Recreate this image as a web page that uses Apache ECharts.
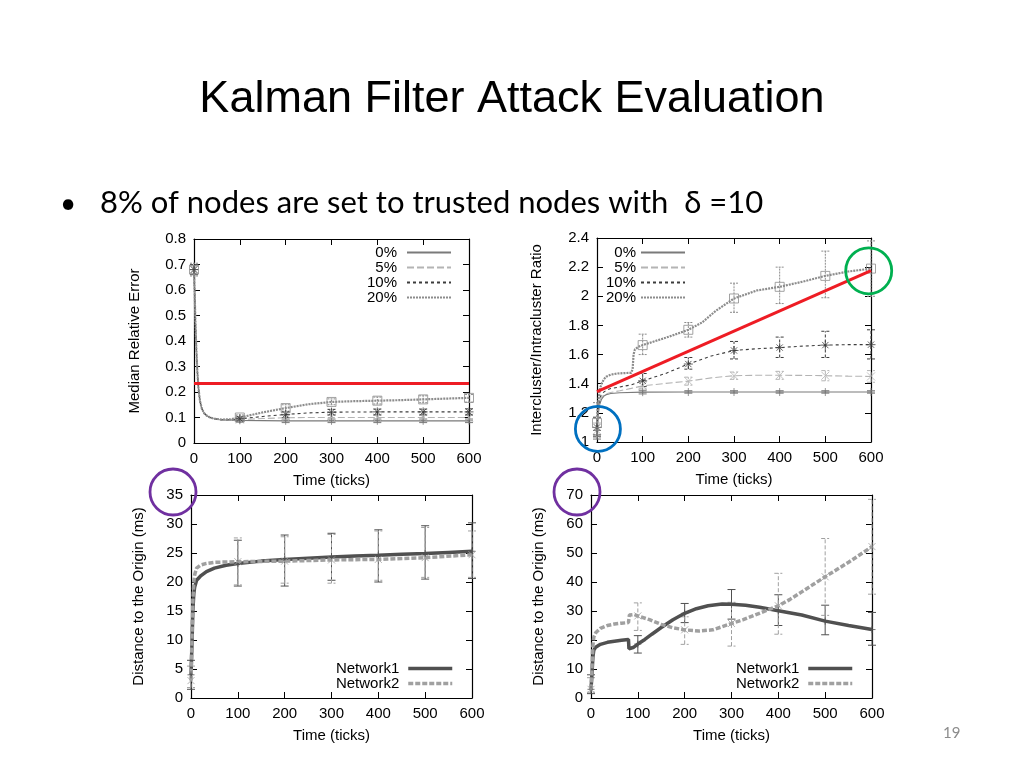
<!DOCTYPE html>
<html><head><meta charset="utf-8">
<script src="https://cdn.jsdelivr.net/npm/echarts@6/dist/echarts.min.js"></script>
<style>html,body{margin:0;padding:0;background:#fff}#c{width:1024px;height:768px}</style>
</head><body><div id="c"></div>
<script>
const F = 'Liberation Sans, Arial, sans-serif';
// ---------- data: chart 1 (Median Relative Error) ----------
const mre0 = [[0,0.68],[2,0.55],[4,0.42],[6,0.33],[8,0.26],[10,0.21],[13,0.165],[17,0.135],[22,0.117],[28,0.107],[35,0.1],[45,0.095],[60,0.091],[80,0.09],[100,0.089],[150,0.088],[200,0.087],[300,0.087],[400,0.087],[500,0.087],[600,0.087]];
const mre5 = [[0,0.68],[2,0.55],[4,0.42],[6,0.33],[8,0.26],[10,0.21],[13,0.165],[17,0.135],[22,0.117],[28,0.107],[35,0.1],[45,0.095],[60,0.091],[80,0.09],[100,0.092],[150,0.096],[200,0.099],[250,0.1],[300,0.1],[400,0.1],[500,0.1],[600,0.1]];
const mre10 = [[0,0.68],[2,0.55],[4,0.42],[6,0.33],[8,0.26],[10,0.21],[13,0.165],[17,0.135],[22,0.117],[28,0.107],[35,0.1],[45,0.095],[60,0.091],[80,0.091],[100,0.095],[150,0.104],[200,0.112],[250,0.118],[300,0.121],[400,0.122],[500,0.122],[600,0.122]];
const mre20 = [[0,0.68],[2,0.55],[4,0.42],[6,0.33],[8,0.26],[10,0.21],[13,0.165],[17,0.135],[22,0.117],[28,0.107],[35,0.1],[45,0.095],[60,0.092],[80,0.093],[100,0.1],[150,0.12],[200,0.137],[250,0.152],[300,0.161],[350,0.164],[400,0.166],[450,0.168],[500,0.171],[550,0.174],[600,0.177]];
const mreErr0 = [[0,0.665,0.695],[100,0.082,0.096],[200,0.08,0.094],[300,0.08,0.094],[400,0.08,0.094],[500,0.08,0.094],[600,0.08,0.094]];
const mreErr5 = [[0,0.665,0.695],[100,0.085,0.1],[200,0.09,0.108],[300,0.09,0.11],[400,0.09,0.11],[500,0.09,0.11],[600,0.09,0.11]];
const mreErr10 = [[0,0.66,0.7],[100,0.087,0.103],[200,0.1,0.122],[300,0.11,0.132],[400,0.11,0.133],[500,0.11,0.133],[600,0.11,0.134]];
const mreErr20 = [[0,0.655,0.705],[100,0.09,0.11],[200,0.125,0.15],[300,0.15,0.173],[400,0.153,0.18],[500,0.158,0.185],[600,0.16,0.19]];
const mreRed = [[0,0.233],[600,0.233]];
// ---------- data: chart 2 (Intercluster/Intracluster Ratio) ----------
const ratio0 = [[0,1.05],[3,1.2],[6,1.26],[10,1.295],[15,1.315],[20,1.325],[30,1.333],[50,1.338],[100,1.342],[200,1.343],[300,1.343],[400,1.343],[500,1.343],[600,1.343]];
const ratio5 = [[0,1.08],[3,1.22],[6,1.28],[10,1.31],[20,1.33],[30,1.34],[50,1.352],[75,1.368],[100,1.385],[150,1.402],[200,1.418],[250,1.44],[300,1.455],[350,1.458],[400,1.458],[450,1.457],[500,1.455],[550,1.452],[600,1.45]];
const ratio10 = [[0,1.1],[3,1.24],[6,1.3],[10,1.33],[20,1.355],[30,1.367],[50,1.378],[75,1.392],[100,1.42],[150,1.47],[200,1.535],[250,1.59],[300,1.628],[350,1.64],[400,1.648],[450,1.658],[500,1.665],[550,1.668],[600,1.668]];
const ratio20 = [[0,1.13],[3,1.28],[6,1.36],[10,1.4],[15,1.43],[20,1.448],[30,1.462],[45,1.47],[60,1.473],[75,1.475],[78,1.5],[80,1.6],[83,1.635],[90,1.652],[100,1.665],[150,1.715],[200,1.77],[230,1.82],[260,1.9],[300,1.985],[350,2.04],[400,2.065],[450,2.1],[500,2.14],[550,2.17],[600,2.19]];
const ratioErr0 = [[0,1.02,1.08],[100,1.33,1.355],[200,1.335,1.352],[300,1.335,1.352],[400,1.335,1.352],[500,1.335,1.352],[600,1.335,1.352]];
const ratioErr5 = [[0,1.03,1.13],[100,1.365,1.415],[200,1.39,1.445],[300,1.43,1.48],[400,1.43,1.485],[500,1.42,1.49],[600,1.41,1.49]];
const ratioErr10 = [[0,1.04,1.17],[100,1.38,1.47],[200,1.5,1.58],[300,1.57,1.69],[400,1.58,1.72],[500,1.58,1.76],[600,1.57,1.77]];
const ratioErr20 = [[0,1.05,1.27],[100,1.6,1.74],[200,1.72,1.82],[300,1.89,2.09],[400,1.95,2.2],[500,1.99,2.31],[600,2.0,2.38]];
const ratioRed = [[0,1.345],[600,2.176]];
// ---------- data: chart 3 (Distance, Network1/2) ----------
const distA1 = [[0,4],[2,9],[4,15],[6,18],[8,19.2],[12,20.3],[20,21],[33,21.8],[50,22.4],[75,22.9],[100,23.2],[150,23.6],[200,23.9],[250,24.1],[300,24.3],[350,24.5],[400,24.6],[450,24.8],[500,24.9],[550,25.1],[600,25.3]];
const distA2 = [[0,3],[2,10],[4,17],[6,20],[8,21.3],[12,22.4],[20,22.9],[33,23.2],[50,23.4],[100,23.5],[200,23.6],[300,23.8],[400,23.9],[500,24.2],[600,24.7]];
const distAErr1 = [[0,1.5,6.5],[100,19.3,27.2],[200,19.3,28.1],[300,20.3,28.4],[400,20,29],[500,20.5,29.7],[600,20.6,30.2]];
const distAErr2 = [[0,1.8,5.5],[100,19.5,27.6],[200,19.8,27.8],[300,19.8,28.2],[400,20.3,28.8],[500,20.8,29.4],[600,20.8,28.8]];
// ---------- data: chart 4 (Distance, Network1/2) ----------
const distB1 = [[0,3],[2,8],[4,14],[6,16.5],[10,17.5],[20,18.5],[35,19.2],[50,19.6],[65,19.9],[80,20.2],[81,17],[90,17.4],[100,18.6],[115,20.2],[130,22],[150,24.3],[175,27],[200,29.2],[225,30.8],[250,31.8],[280,32.4],[300,32.3],[330,32],[360,31.3],[400,30.1],[450,28.6],[500,26.5],[550,25],[600,23.6]];
const distB2 = [[0,3],[2,10],[4,18],[6,21],[10,22.5],[20,24],[35,25],[50,25.5],[65,25.8],[80,26],[82,28.6],[92,28.8],[100,28.3],[125,27],[150,25.4],[175,24.2],[200,23.5],[230,23.1],[260,23.5],[300,25.7],[325,27],[350,28.6],[375,30.2],[400,31.8],[425,34],[450,36.6],[475,39.2],[500,41.8],[525,44.3],[550,46.8],[575,49.5],[600,52.2]];
const distBErr1 = [[0,1.5,8],[100,15.5,21.5],[200,26,32.6],[300,27.2,37.4],[400,25,35.6],[500,21.8,32],[600,18.2,29.5]];
const distBErr2 = [[0,2,7],[100,23.3,32.8],[200,18.5,28],[300,17.9,33],[400,22,43],[500,28.5,55],[600,35.8,68.5]];
// ---------- labels ----------
const legendPct = ['0%','5%','10%','20%'];
const legendNet = ['Network1','Network2'];
const yNames = ['Median Relative Error','Intercluster/Intracluster Ratio','Distance to the Origin (ms)','Distance to the Origin (ms)'];
const yRanges = [[0,0.8,0.1],[1,2.4,0.2],[0,35,5],[0,70,10]];

const grids = [
  {left:194, top:239, width:275, height:204},
  {left:597, top:238, width:274, height:204},
  {left:191, top:495, width:281, height:203},
  {left:591, top:495, width:281, height:203}
];
const yGaps = [52, 53, 45, 45];

const PLUS = 'path://M5,0L5,10M0,5L10,5';
const CROSS = 'path://M0,0L10,10M10,0L0,10';
const STAR = 'path://M5,0L5,10M0,5L10,5M1.5,1.5L8.5,8.5M8.5,1.5L1.5,8.5';

const chart = echarts.init(document.getElementById('c'), null, {renderer:'canvas'});

function xAx(g, main){
  return {type:'value', gridIndex:g, min:0, max:600, interval:100, position: main?'bottom':'top',
    name: main?'Time (ticks)':'', nameLocation:'middle', nameGap:30,
    nameTextStyle:{fontSize:15, color:'#000', fontFamily:F},
    axisLine:{show:true, onZero:false, lineStyle:{color:'#000', width:1.2}},
    axisTick:{show:true, inside:true, length:6, lineStyle:{color:'#000', width:1}},
    axisLabel:{show:main, fontSize:15, color:'#000', fontFamily:F, margin:8},
    splitLine:{show:false}};
}
function yAx(g, main){
  const r = yRanges[g];
  return {type:'value', gridIndex:g, min:r[0], max:r[1], interval:r[2], position: main?'left':'right',
    name: main?yNames[g]:'', nameLocation:'middle', nameGap:yGaps[g],
    nameTextStyle:{fontSize:15, color:'#000', fontFamily:F},
    axisLine:{show:true, onZero:false, lineStyle:{color:'#000', width:1.2}},
    axisTick:{show:true, inside:true, length:6, lineStyle:{color:'#000', width:1}},
    axisLabel:{show:main, fontSize:15, color:'#000', fontFamily:F, margin:8},
    splitLine:{show:false}};
}
function lineS(name, data, g, color, width, dash){
  return {type:'line', name, data, xAxisIndex:g, yAxisIndex:g, symbol:'none', silent:true,
    lineStyle:{color, width, type:dash}, itemStyle:{color}, z:3};
}
function markS(data, g, symbol, color, size){
  return {type:'scatter', name:'_m', data:data.filter(p => p[0] % 100 === 0), xAxisIndex:g, yAxisIndex:g,
    symbol, symbolSize:size, silent:true, itemStyle:{color:'none', borderColor:color, borderWidth:1}, z:4};
}
function errS(data, g, color, dash){
  return {type:'custom', name:'_e', data, xAxisIndex:g, yAxisIndex:g, encode:{x:0, y:[1,2]}, silent:true, z:2,
    renderItem: function(params, api){
      const x = api.value(0);
      const p1 = api.coord([x, api.value(1)]), p2 = api.coord([x, api.value(2)]);
      const w = 4, st = {stroke:color, lineWidth:1, lineDash:dash};
      return {type:'group', children:[
        {type:'line', shape:{x1:p1[0],y1:p1[1],x2:p2[0],y2:p2[1]}, style:st},
        {type:'line', shape:{x1:p1[0]-w,y1:p1[1],x2:p1[0]+w,y2:p1[1]}, style:st},
        {type:'line', shape:{x1:p2[0]-w,y1:p2[1],x2:p2[0]+w,y2:p2[1]}, style:st}]};
    }};
}
function redS(data, g){
  return {type:'line', name:'_r', data, xAxisIndex:g, yAxisIndex:g, symbol:'none', silent:true,
    lineStyle:{color:'#ee1c24', width:3}, z:6};
}

const C0 = '#7a7a7a', C5 = '#b4b4b4', C10 = '#3c3c3c', C20 = '#8c8c8c';
const N1 = '#505050', N2 = '#a0a0a0';
const D5 = [7,3], D10 = [3,3], D20 = [2,1];

const series = [];
[[mre0,mreErr0],[ratio0,ratioErr0]].forEach((d,g)=>{ series.push(lineS('0%', d[0], g, C0, 1.2, 'solid'), errS(d[1], g, C0, null), markS(d[0], g, PLUS, C0, 8)); });
[[mre5,mreErr5],[ratio5,ratioErr5]].forEach((d,g)=>{ series.push(lineS('5%', d[0], g, C5, 1.1, D5), errS(d[1], g, C5, [4,2]), markS(d[0], g, CROSS, C5, 8)); });
[[mre10,mreErr10],[ratio10,ratioErr10]].forEach((d,g)=>{ series.push(lineS('10%', d[0], g, C10, 1.1, D10), errS(d[1], g, C10, [3,2]), markS(d[0], g, STAR, C10, 9)); });
[[mre20,mreErr20],[ratio20,ratioErr20]].forEach((d,g)=>{ series.push(lineS('20%', d[0], g, C20, 2.2, D20), errS(d[1], g, C20, [2,1]), markS(d[0], g, 'rect', C20, 9)); });
series.push(redS(mreRed, 0), redS(ratioRed, 1));
[[distA1,distAErr1,distA2,distAErr2],[distB1,distBErr1,distB2,distBErr2]].forEach((d,i)=>{
  const g = i + 2;
  series.push(errS(d[1], g, N1, null), errS(d[3], g, N2, [4,2]));
  series.push(lineS('Network1', d[0], g, N1, 3.5, 'solid'));
  series.push(lineS('Network2', d[2], g, N2, 3.5, [5,2]));
  series.push(markS(d[0], g, PLUS, N1, 7), markS(d[2], g, CROSS, N2, 7));
});

function legendAt(right, top, data, gap, lw){
  const l = {orient:'vertical', right, top, align:'right', padding:0, itemGap:0, itemWidth:44, itemHeight:12,
    selectedMode:false, data, itemStyle:{opacity:0, borderWidth:0},
    textStyle:{fontSize:15, lineHeight:15, color:'#000', fontFamily:F, padding:[0,gap,0,0]}};
  if (lw) l.lineStyle = {width:lw};
  return l;
}

chart.setOption({
  animation:false,
  backgroundColor:'#fff',
  grid: grids,
  xAxis: [0,1,2,3].map(g=>xAx(g,true)).concat([0,1,2,3].map(g=>xAx(g,false))),
  yAxis: [0,1,2,3].map(g=>yAx(g,true)).concat([0,1,2,3].map(g=>yAx(g,false))),
  legend: [legendAt(572,245,legendPct,5), legendAt(338,245,legendPct,0), legendAt(570,661,legendNet,4,3.5), legendAt(170,661,legendNet,4,3.5)],
  series,
  graphic: [
    {type:'text', id:'title', left:'center', top:77, style:{text:'Kalman Filter Attack Evaluation', font:'45px "Liberation Sans", Arial, sans-serif', fill:'#000'}},
    {type:'text', id:'bullet', left:60, top:190, style:{text:'•', font:'28px Lato, sans-serif', fill:'#000'}},
    {type:'text', id:'btext', left:100, top:187, style:{text:'8% of nodes are set to trusted nodes with  δ =10', font:'31px Lato, sans-serif', fill:'#000'}},
    {type:'text', id:'page', left:943, top:726, style:{text:'19', font:'15px Lato, sans-serif', fill:'#8c8c8c'}}
  ]
});

// annotation circles, anchored to data / axis positions
const notes = [
  {g:1, at:[2,1.09], dx:0, dy:0, r:22.5, color:'#0070c0'},
  {g:1, at:[595,2.175], dx:0, dy:0, r:23, color:'#00b050'},
  {g:2, at:[0,35], dx:-18, dy:-3, r:23, color:'#7030a0'},
  {g:3, at:[0,70], dx:-14, dy:-3, r:23, color:'#7030a0'}
];
chart.setOption({graphic: notes.map((n,i)=>{
  const p = chart.convertToPixel({xAxisIndex:n.g, yAxisIndex:n.g}, n.at);
  return {type:'circle', id:'note'+i, shape:{cx:p[0]+n.dx, cy:p[1]+n.dy, r:n.r}, style:{fill:'none', stroke:n.color, lineWidth:2.8}, z:100};
})});
</script></body></html>
